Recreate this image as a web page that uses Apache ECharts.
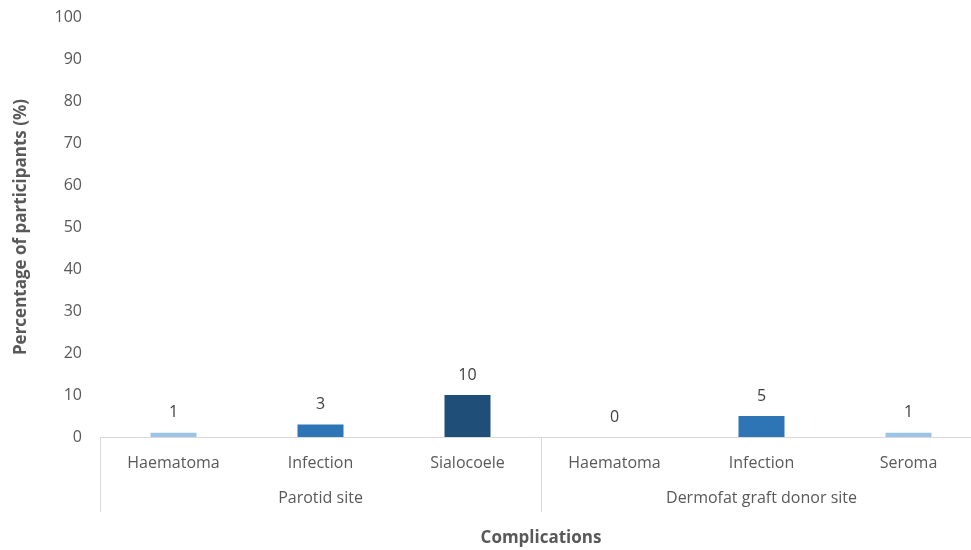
<!DOCTYPE html>
<html>
<head>
<meta charset="utf-8">
<style>
  html, body { margin: 0; padding: 0; background: #ffffff; }
  #chart { width: 971px; height: 550px; }
</style>
<script src="https://cdn.jsdelivr.net/npm/echarts@6/dist/echarts.min.js"></script>
</head>
<body>
<div id="chart"></div>
<script>
// Complications, grouped by site
const complications = ['Haematoma', 'Infection', 'Sialocoele', 'Haematoma', 'Infection', 'Seroma'];
const sites = ['Parotid site', 'Dermofat graft donor site'];
const percentages = [1, 3, 10, 0, 5, 1];
const barColors = ['#9DC3E6', '#2E75B6', '#1F4E79', '#9DC3E6', '#2E75B6', '#9DC3E6'];

const FONT = 'Open Sans';
const TEXT = '#595959';
const LINE = '#d9d9d9';

const chart = echarts.init(document.getElementById('chart'));
chart.setOption({
  animation: false,
  textStyle: { fontFamily: FONT },
  grid: { left: 100, right: -11, top: 17, bottom: 113, containLabel: false, outerBoundsMode: 'none' },
  xAxis: [
    {
      type: 'category',
      data: complications,
      axisLine: { show: true, lineStyle: { color: LINE, width: 1 } },
      axisTick: { show: false },
      axisLabel: { color: TEXT, fontSize: 16, margin: 18, fontFamily: FONT }
    },
    {
      type: 'category',
      position: 'bottom',
      data: sites,
      axisLine: { show: false },
      axisTick: { show: true, length: 75, lineStyle: { color: LINE, width: 1 } },
      axisLabel: { color: TEXT, fontSize: 16, margin: 53, fontFamily: FONT },
      name: 'Complications',
      nameLocation: 'middle',
      nameGap: 93,
      nameTextStyle: { color: TEXT, fontSize: 17, fontWeight: 'bold', fontFamily: FONT }
    }
  ],
  yAxis: {
    type: 'value',
    min: 0,
    max: 100,
    interval: 10,
    axisLine: { show: false },
    axisTick: { show: false },
    splitLine: { show: false },
    axisLabel: { color: TEXT, fontSize: 16, margin: 18, fontFamily: FONT },
    name: 'Percentage of participants (%)',
    nameLocation: 'middle',
    nameGap: 70,
    nameRotate: 90,
    nameTextStyle: { color: TEXT, fontSize: 17, fontWeight: 'bold', fontFamily: FONT }
  },
  series: [
    {
      type: 'bar',
      xAxisIndex: 0,
      barWidth: 46,
      data: percentages.map((v, i) => ({ value: v, itemStyle: { color: barColors[i] } })),
      label: {
        show: true,
        position: 'top',
        distance: 12,
        color: '#404040',
        fontSize: 16,
        fontFamily: FONT
      }
    }
  ]
});
</script>
</body>
</html>
